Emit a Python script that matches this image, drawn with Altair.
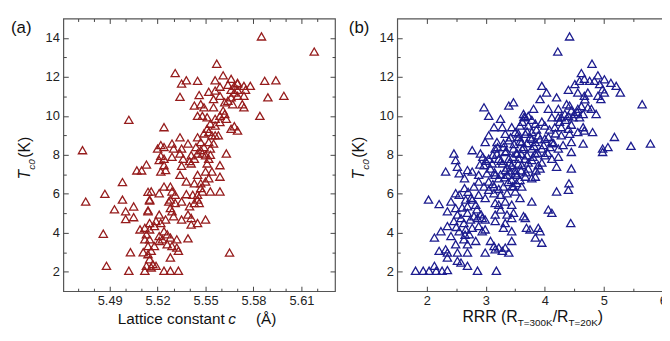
import altair as alt
import pandas as pd

# ---------------- data ----------------
# panel (a): lattice constant c (Å) vs Tc0 (K)
lattice_points = [
    (5.585, 14.08), (5.618, 13.3), (5.557, 12.68), (5.531, 12.2),
    (5.535, 11.66), (5.538, 11.83), (5.545, 11.8), (5.556, 11.83), (5.561, 12.08), (5.566, 11.9),
    (5.570, 11.66), (5.574, 11.54), (5.578, 11.54), (5.587, 11.8), (5.594, 11.83), (5.564, 11.6),
    (5.568, 11.54), (5.570, 11.7), (5.559, 11.5),
    (5.534, 10.98), (5.546, 11.07), (5.552, 11.24), (5.556, 11.3), (5.555, 10.86), (5.566, 11.34),
    (5.568, 11.2), (5.570, 11.34), (5.566, 10.95), (5.564, 10.78), (5.562, 10.7), (5.574, 11.03),
    (5.575, 11.34), (5.570, 11.03), (5.589, 10.95), (5.599, 11.03), (5.543, 10.53), (5.547, 10.6),
    (5.549, 10.44), (5.555, 10.44), (5.567, 10.6), (5.574, 10.44), (5.573, 10.6), (5.559, 11.03),
    (5.545, 10.0), (5.548, 10.0), (5.551, 9.93), (5.556, 9.85), (5.559, 10.0), (5.562, 10.1),
    (5.563, 9.85), (5.584, 10.0), (5.553, 9.6), (5.556, 9.5), (5.559, 9.68), (5.551, 9.34),
    (5.566, 9.34), (5.570, 9.25), (5.568, 9.47), (5.524, 9.42), (5.561, 10.27),
    (5.534, 8.9), (5.545, 8.9), (5.547, 8.66), (5.549, 9.1), (5.552, 9.17), (5.554, 9.0),
    (5.556, 9.0), (5.558, 9.0), (5.552, 8.66), (5.555, 8.58), (5.544, 8.4), (5.549, 8.4),
    (5.539, 8.58), (5.529, 8.58), (5.522, 8.5), (5.520, 8.32), (5.524, 8.4), (5.530, 8.32),
    (5.535, 8.32), (5.553, 8.32),
    (5.522, 7.95), (5.529, 7.9), (5.534, 8.07), (5.541, 7.98), (5.545, 8.07), (5.548, 8.07),
    (5.550, 7.98), (5.553, 8.0), (5.547, 8.24), (5.563, 8.07), (5.521, 7.73), (5.524, 7.8),
    (5.536, 7.8), (5.540, 7.68), (5.543, 7.8), (5.552, 7.8), (5.524, 7.47), (5.535, 7.44),
    (5.541, 7.56), (5.551, 7.56), (5.559, 7.47), (5.522, 7.14), (5.525, 7.22),
    (5.534, 6.97), (5.545, 6.97), (5.550, 7.14), (5.554, 7.14), (5.559, 6.88), (5.552, 6.8),
    (5.550, 6.63), (5.538, 6.63), (5.543, 6.54), (5.547, 6.54), (5.524, 6.37), (5.528, 6.37),
    (5.547, 6.29),
    (5.516, 6.12), (5.521, 6.03), (5.529, 6.12), (5.531, 5.95), (5.538, 5.98), (5.548, 6.12),
    (5.553, 6.12), (5.559, 6.12), (5.542, 5.95), (5.545, 5.95), (5.528, 5.7), (5.527, 5.6),
    (5.531, 5.53), (5.535, 5.6), (5.545, 5.7), (5.546, 5.53), (5.543, 5.53), (5.515, 5.66),
    (5.540, 5.36),
    (5.514, 5.1), (5.521, 4.93), (5.528, 5.27), (5.529, 5.1), (5.530, 4.85), (5.535, 4.68),
    (5.539, 4.93), (5.541, 4.76), (5.545, 4.5), (5.550, 4.68), (5.525, 4.68), (5.519, 4.6),
    (5.515, 4.5), (5.518, 4.34), (5.512, 4.25), (5.541, 4.42), (5.522, 4.5),
    (5.509, 4.17), (5.515, 4.17), (5.513, 3.92), (5.521, 3.83), (5.524, 4.08), (5.526, 3.92),
    (5.523, 3.66), (5.528, 3.75), (5.532, 3.66), (5.539, 3.71), (5.515, 3.66), (5.512, 3.66),
    (5.521, 3.58), (5.526, 3.41), (5.529, 3.32), (5.532, 3.24), (5.565, 2.98), (5.514, 3.32),
    (5.518, 3.32),
    (5.516, 3.07), (5.514, 2.9), (5.511, 3.0), (5.533, 3.07), (5.528, 2.73), (5.515, 2.64),
    (5.517, 2.39), (5.519, 2.3), (5.516, 2.22), (5.513, 2.3), (5.512, 2.05), (5.524, 2.05),
    (5.528, 2.05), (5.533, 2.05), (5.502, 2.05), (5.503, 3.0), (5.488, 2.3),
    (5.473, 8.24), (5.475, 5.6), (5.502, 9.8), (5.487, 6.0), (5.486, 3.95), (5.498, 6.6),
    (5.498, 5.7), (5.493, 5.2), (5.500, 5.1), (5.500, 4.7), (5.505, 5.35), (5.505, 4.8),
    (5.507, 7.2), (5.510, 7.2), (5.513, 7.5), (5.514, 6.1), (5.515, 5.7), (5.514, 5.15),
]

# panel (b): RRR vs Tc0 (K)
rrr_points = [
    (4.42, 14.08), (4.22, 13.3), (4.80, 12.68), (4.62, 12.2), (4.90, 12.08), (5.01, 11.88),
    (5.12, 11.7), (5.21, 11.54), (5.28, 11.2), (4.67, 11.9), (4.76, 11.8), (4.84, 11.8),
    (4.93, 11.63), (4.59, 11.8), (4.51, 11.63), (4.40, 11.34), (3.95, 11.54), (4.03, 11.2),
    (4.20, 10.95), (3.92, 10.86), (3.81, 10.36), (4.56, 11.2), (4.67, 11.03), (4.73, 11.2),
    (4.98, 11.37), (5.01, 11.2), (4.95, 10.86), (4.90, 11.03), (5.65, 10.6), (2.97, 10.44),
    (3.05, 10.0), (3.39, 10.53), (3.47, 10.7), (3.25, 9.85), (3.64, 10.1), (3.67, 9.93),
    (4.06, 10.36), (4.23, 10.36), (4.37, 10.6), (4.42, 10.53), (4.45, 10.27), (4.34, 10.1),
    (4.28, 9.93), (4.56, 10.36), (4.65, 10.1), (4.73, 10.44), (4.79, 10.36), (4.87, 10.1),
    (4.48, 9.93), (4.59, 9.93), (4.23, 9.93), (4.12, 9.93), (4.40, 10.0),
    (3.14, 9.42), (3.28, 9.42), (3.44, 9.42), (3.58, 9.5), (3.72, 9.5), (3.84, 9.6),
    (4.00, 9.5), (4.17, 9.42), (4.28, 9.42), (4.40, 9.34), (4.65, 9.42), (4.67, 9.25),
    (4.81, 9.17), (4.56, 9.17), (5.18, 8.92), (3.05, 9.0), (3.33, 9.08), (3.50, 9.17),
    (3.67, 9.08), (3.78, 9.17), (3.89, 9.0), (4.06, 8.92), (4.28, 9.0), (4.42, 9.08),
    (3.56, 8.92), (3.78, 8.83), (4.00, 8.83), (2.99, 8.66), (3.19, 8.66), (3.39, 8.75),
    (3.61, 8.66), (3.84, 8.66), (4.12, 8.66), (4.65, 8.58), (4.31, 8.5), (4.45, 8.66),
    (5.07, 8.4), (5.46, 8.46), (5.79, 8.58), (4.98, 8.32), (4.98, 8.15),
    (3.16, 8.32), (3.30, 8.4), (3.47, 8.32), (3.64, 8.4), (3.78, 8.32), (3.95, 8.32),
    (4.09, 8.4), (4.23, 8.32), (4.45, 8.15), (2.77, 8.24), (2.91, 8.07), (3.19, 8.07),
    (3.33, 8.15), (3.53, 8.07), (3.70, 7.98), (3.84, 8.07), (4.00, 7.98), (2.46, 8.07),
    (2.49, 7.73), (3.05, 7.8), (3.22, 7.8), (3.39, 7.8), (3.56, 7.8), (3.78, 7.73),
    (4.12, 7.8), (4.23, 7.9), (3.11, 7.56), (3.28, 7.56), (3.44, 7.47), (3.61, 7.47),
    (3.89, 7.47), (4.20, 7.39), (4.45, 7.3), (2.52, 7.39), (2.32, 7.14), (2.69, 7.22),
    (2.77, 7.14), (2.97, 7.47), (3.33, 7.22), (3.50, 7.22), (3.72, 7.3), (3.92, 7.3),
    (2.55, 7.05), (2.64, 6.8), (2.88, 6.97), (3.02, 7.05), (3.16, 6.97), (3.36, 6.97),
    (3.53, 6.97), (3.67, 6.88), (2.88, 6.63), (3.05, 6.63), (3.22, 6.8), (3.44, 6.71),
    (3.58, 6.71), (3.78, 6.8), (3.84, 6.88), (2.80, 6.37), (2.97, 6.37), (3.14, 6.37),
    (3.30, 6.37), (3.47, 6.37), (3.61, 6.37), (4.41, 6.54), (4.40, 6.2), (2.64, 6.29),
    (2.03, 5.7), (2.21, 5.47), (2.49, 6.03), (2.55, 5.95), (2.41, 5.6), (2.66, 5.7),
    (2.77, 5.7), (2.88, 5.95), (2.99, 5.78), (3.14, 6.03), (3.25, 5.95), (3.36, 6.03),
    (3.50, 6.12), (3.58, 5.78), (3.78, 5.6), (4.20, 6.12), (3.33, 5.6), (3.22, 5.44),
    (3.44, 5.44), (3.16, 5.53), (2.83, 5.44), (2.69, 5.36), (2.49, 5.27),
    (2.35, 5.1), (2.52, 4.93), (2.69, 5.02), (2.80, 4.85), (2.86, 4.76), (2.94, 4.76),
    (2.99, 4.68), (3.16, 4.93), (3.25, 5.19), (3.36, 4.93), (3.47, 5.02), (3.44, 4.76),
    (3.64, 4.85), (3.67, 4.76), (4.06, 5.19), (4.12, 5.02), (4.44, 4.5), (2.46, 4.6),
    (2.63, 4.5), (2.74, 4.68), (3.16, 4.6), (3.33, 4.5), (2.88, 4.34), (2.35, 4.34),
    (2.77, 4.25),
    (2.24, 4.08), (2.41, 3.83), (2.55, 4.08), (2.66, 4.17), (2.72, 3.92), (2.94, 4.08),
    (2.99, 4.17), (3.30, 4.25), (3.44, 4.08), (3.69, 4.25), (3.75, 4.17), (3.89, 4.25),
    (3.92, 4.08), (2.13, 3.75), (2.63, 3.66), (2.83, 3.58), (3.08, 3.58), (3.44, 3.58),
    (3.84, 3.75), (3.95, 3.49), (2.69, 3.41), (3.14, 3.32), (3.22, 3.24), (3.33, 3.24),
    (2.49, 3.41),
    (2.21, 3.07), (2.32, 3.15), (2.35, 2.98), (2.52, 2.98), (2.69, 2.98), (2.99, 2.98),
    (3.16, 3.15), (3.28, 3.07), (3.39, 2.98), (2.35, 2.73), (2.52, 2.56), (2.58, 2.47),
    (2.69, 2.3), (2.13, 2.3), (2.16, 2.05), (2.04, 2.05), (1.81, 2.05), (1.94, 2.05),
    (2.26, 2.05), (2.35, 2.08), (2.86, 2.05), (3.18, 2.05),
    (3.30, 8.6), (3.35, 8.2), (3.42, 8.9), (3.48, 8.55), (3.52, 8.1), (3.58, 8.7),
    (3.62, 8.3), (3.40, 7.6), (3.46, 7.9), (3.55, 7.55), (3.36, 7.35), (3.42, 7.15),
    (3.50, 7.05), (3.60, 7.2), (3.68, 7.1), (3.26, 7.7), (3.20, 8.4), (3.12, 8.0),
    (3.08, 7.3), (3.15, 7.1), (3.25, 7.0), (3.32, 6.85), (3.38, 6.6), (3.45, 6.4),
    (3.52, 6.55), (3.70, 8.6), (3.75, 8.9), (3.82, 8.45), (3.88, 8.1), (3.92, 8.8),
    (3.98, 8.5), (3.86, 9.3), (3.95, 9.7), (3.78, 9.8), (3.70, 9.2), (3.62, 9.7),
    (3.55, 9.1), (3.65, 9.95), (3.72, 10.0), (3.60, 8.05), (3.66, 7.8), (3.72, 7.6),
    (3.80, 7.9), (3.85, 7.2), (3.95, 7.6), (4.05, 8.1), (4.15, 8.6), (4.08, 9.3),
    (4.18, 9.1), (4.25, 9.7), (4.35, 9.8), (4.45, 9.55), (4.55, 10.2), (4.62, 10.5),
    (4.68, 10.85), (4.50, 10.1), (3.00, 7.7), (2.95, 7.9), (2.90, 7.5), (3.05, 6.2),
    (3.12, 6.5), (3.22, 6.25), (2.70, 6.1), (2.75, 5.8), (2.60, 5.3), (2.85, 5.2),
    (2.92, 4.95), (2.58, 4.75), (2.50, 4.3), (2.65, 3.9),
]

# axis ticks / labels
a_x_labels = [5.49, 5.52, 5.55, 5.58, 5.61]
a_x_ticks = [5.47, 5.48, 5.49, 5.50, 5.51, 5.52, 5.53, 5.54, 5.55, 5.56, 5.57, 5.58, 5.59, 5.60, 5.61, 5.62]
b_x_labels = [2, 3, 4, 5, 6]
b_x_ticks = [2, 2.5, 3, 3.5, 4, 4.5, 5, 5.5, 6]
y_labels = [2, 4, 6, 8, 10, 12, 14]
y_ticks = [2, 3, 4, 5, 6, 7, 8, 9, 10, 11, 12, 13, 14]

a_x_domain = [5.461, 5.631]
b_x_domain = [1.5, 6.07]
y_domain = [1, 15]

df_a = pd.DataFrame(lattice_points, columns=["x", "tc"])
df_b = pd.DataFrame(rrr_points, columns=["x", "tc"])

# ---------------- style ----------------
RED = "#961c1c"
BLUE = "#1c1c8f"
FONT = "Liberation Sans"
W_A, W_B, H = 275, 273, 276


def txt(s, x, y, size, italic=False, angle=0):
    return alt.Chart(pd.DataFrame({"t": [s]})).mark_text(
        align="left", baseline="alphabetic", fontSize=size,
        fontStyle="italic" if italic else "normal", angle=angle,
        font=FONT, color="#111",
    ).encode(text="t:N", x=alt.value(x), y=alt.value(y))


def panel(df, xdom, xlabels, xticks, xfmt, xtest, W, color, texts):
    xs = alt.Scale(domain=xdom, nice=False, zero=False)
    ys = alt.Scale(domain=y_domain, nice=False, zero=False)
    common = dict(grid=False, title=None, domain=False)
    xt = {"condition": {"test": xtest, "value": 5}, "value": 3}
    yt = {"condition": {"test": "datum.value % 2 === 0", "value": 5}, "value": 3}
    base = alt.Chart(df)
    pts = base.mark_point(shape="triangle-up", filled=False, size=70,
                          strokeWidth=1.3, color=color, opacity=1).encode(
        x=alt.X("x:Q", scale=xs, axis=alt.Axis(orient="bottom", values=xlabels, format=xfmt,
                                               ticks=False, labelPadding=3, **common)),
        y=alt.Y("tc:Q", scale=ys, axis=alt.Axis(orient="left", values=y_labels, ticks=False,
                                                labelPadding=4, **common)),
    )
    tb = base.mark_point(opacity=0).encode(
        x=alt.X("x:Q", scale=xs, axis=alt.Axis(orient="top", offset=-H, values=xticks,
                                               labels=False, tickSize=xt, **common)),
        y=alt.Y("tc:Q", scale=ys, axis=alt.Axis(orient="right", offset=-W, values=y_ticks,
                                                labels=False, tickSize=yt, **common)),
    )
    tc = base.mark_point(opacity=0).encode(
        x=alt.X("x:Q", scale=xs, axis=alt.Axis(orient="bottom", offset=-H, values=xticks,
                                               labels=False, tickSize=xt, **common)),
        y=alt.Y("tc:Q", scale=ys, axis=alt.Axis(orient="left", offset=-W, values=y_ticks,
                                                labels=False, tickSize=yt, **common)),
    )
    return alt.layer(pts, tb, tc, *texts).resolve_axis(
        x="independent", y="independent").properties(width=W, height=H)


ytitle = [
    txt("T", -34, 163, 16, italic=True, angle=270),
    txt("c0", -28.5, 153, 10, italic=True, angle=270),
    txt("(K)", -34, 141, 16, angle=270),
]

texts_a = [txt("(a)", -53, 15, 17)] + ytitle + [
    txt("Lattice constant", 55, 309, 15.5),
    txt("c", 167, 309, 15.5, italic=True),
    txt("(Å)", 195, 309, 15.5),
]
texts_b = [txt("(b)", -49, 15, 17)] + ytitle + [
    txt("RRR (R", 66, 307, 16),
    txt("T=300K", 122, 311, 10),
    txt("/R", 157.3, 307, 16),
    txt("T=20K", 173.3, 311, 10),
    txt(")", 203, 307, 16),
]

pa = panel(df_a, a_x_domain, a_x_labels, a_x_ticks, ".2f",
           "abs(datum.value*100 - 3*round(datum.value*100/3)) < 0.01", W_A, RED, texts_a)
pb = panel(df_b, b_x_domain, b_x_labels, b_x_ticks, "d",
           "abs(datum.value - round(datum.value)) < 0.01", W_B, BLUE, texts_b)

# fixed canvas 662 x 319 so that the page fits the 670 x 341 window;
# the origin (padding left/top) is the top-left corner of panel (a)'s plot area
chart = alt.hconcat(pa, pb, spacing=11).properties(
    autosize=alt.AutoSizeParams(type="none"),
    padding={"left": 56, "top": 7, "right": 606, "bottom": 312},
).configure_view(stroke="#555", strokeWidth=1.2).configure_axis(
    tickColor="#444", tickWidth=1, labelFont=FONT, labelFontSize=13, labelColor="#222"
)

chart.save("out.html", embed_options={"renderer": "svg", "actions": False})
